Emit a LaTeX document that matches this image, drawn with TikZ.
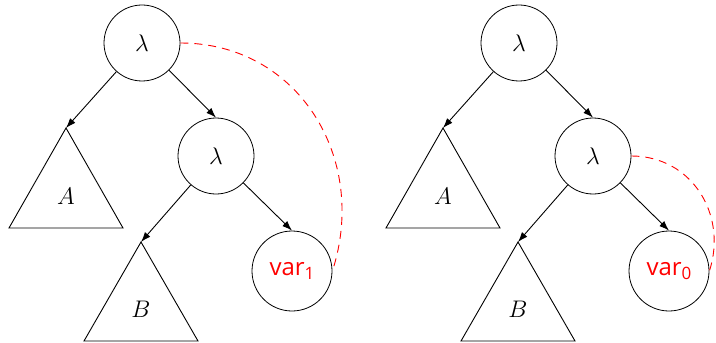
\documentclass[tikz,border=0pt]{standalone}
\usepackage{fontspec}
\newfontfamily\varfont{Open Sans}
\usetikzlibrary{arrows.meta}
\begin{document}
\begin{tikzpicture}[x=0.5pt,y=-0.5pt,
  lam/.style={draw,circle,minimum size=38pt,inner sep=0pt,font=\fontsize{13}{15}\selectfont},
  varn/.style={draw,circle,minimum size=40pt,inner sep=0pt,text=red,font=\fontsize{12}{14}\selectfont\varfont},
  arr/.style={-{Latex[length=5pt,width=3.5pt]},line width=0.45pt},
  back/.style={red,dashed,line width=0.45pt,dash pattern=on 4pt off 3pt},
  tri/.style={line width=0.45pt},
  lbl/.style={font=\fontsize{13}{15}\selectfont}]
\useasboundingbox (0,0) rectangle (716,342);
% left tree
\node[lam] (t1) at (142,43) {$\lambda$};
\node[lam] (t2) at (216,156) {$\lambda$};
\node[varn] (v1) at (292,271) {var\raisebox{-0.3ex}{\fontsize{8.5}{9}\selectfont 1}};
\coordinate (A1) at (66,128);
\coordinate (B1) at (141,242);
\draw[tri] (A1) -- ++(-57,100) -- ++(114,0) -- cycle;
\draw[tri] (B1) -- ++(-57,99) -- ++(114,0) -- cycle;
\node[lbl] (la1) at (66,196) {$A$};
\node[lbl] (lb1) at (141,309) {$B$};
\draw[arr] (t1) -- (A1);
\draw[arr] (t1) -- (t2.north);
\draw[arr] (t2) -- (B1);
\draw[arr] (t2) -- (v1.north);
\draw[back] (t1.east) to[out=0,in=72,looseness=1.1] (v1.east);
% right tree
\node[lam] (r1) at (519,43) {$\lambda$};
\node[lam] (r2) at (593,156) {$\lambda$};
\node[varn] (v0) at (669,271) {var\raisebox{-0.3ex}{\fontsize{8.5}{9}\selectfont 0}};
\coordinate (A2) at (443,128);
\coordinate (B2) at (518,242);
\draw[tri] (A2) -- ++(-57,100) -- ++(114,0) -- cycle;
\draw[tri] (B2) -- ++(-57,99) -- ++(114,0) -- cycle;
\node[lbl] (la2) at (443,196) {$A$};
\node[lbl] (lb2) at (518,309) {$B$};
\draw[arr] (r1) -- (A2);
\draw[arr] (r1) -- (r2.north);
\draw[arr] (r2) -- (B2);
\draw[arr] (r2) -- (v0.north);
\draw[back] (r2.east) to[out=0,in=72,looseness=1.1] (v0.east);
\end{tikzpicture}
\end{document}
